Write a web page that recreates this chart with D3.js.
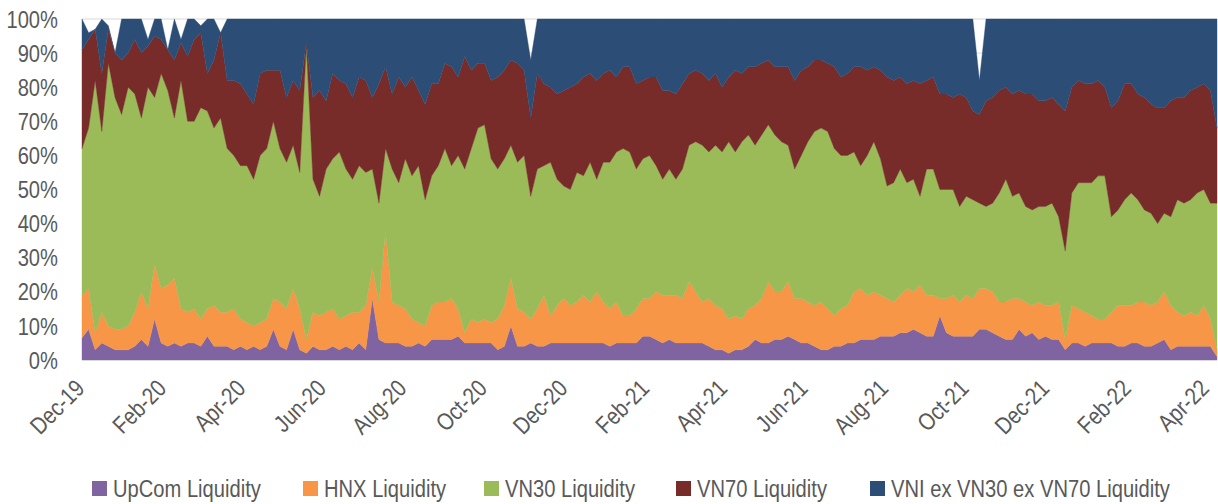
<!DOCTYPE html>
<html>
<head>
<meta charset="utf-8">
<title>Liquidity share</title>
<script src="https://d3js.org/d3.v7.min.js"></script>
<style>
    body { margin: 0; background: #fff; }
    text { font-family: 'Liberation Sans', Arial, sans-serif; fill: #595959; font-size: 24px; }
</style>
</head>
<body>
<script>
//DATA - cumulative share (%) at the top edge of each band, one reading every 5 days from 1 Dec 2019
var upcomLevel = [6.5,9,3,5,4,3,3,3,4,6,4,12,5,4,5,4,5,5,4,7,4,4,4,3,4,3,4,3,4,
    9,4,3,9,3,2,4,3,3,4,3,4,3,5,3,18,6,5,5,5,4,4,5,4,6,6,6,6,7,
    5,5,5,5,5,3,4,10,4,4,5,4,4,5,5,5,5,5,5,5,5,5,4,5,5,5,5,7,7,
    6,5,6,5,5,5,5,5,4,3,3,2,3,3,4,6,5,5,6,6,7,6,5,5,4,3,3,4,4,
    5,5,6,6,6,7,7,7,8,8,9,8,7,7,13,8,7,7,7,7,9,9,8,7,6,6,9,7,8,
    6,7,6,6,3,5,5,4,5,5,5,5,4,4,5,5,4,4,5,6,3,4,4,4,4,4,4,1];
var hnxLevel = [19,21,8,14,10,9,9,10,14,20,15,28,21,22,24,15,14,15,12,15,16,14,14,15,12,11,10,11,12,
    18,17,15,21,15,6,14,13,14,15,12,13,14,14,16,27,17,38,17,16,15,12,11,10,16,17,17,18,15,
    8,12,11,12,11,12,16,24,15,14,12,15,19,13,16,18,16,17,19,17,20,17,15,17,13,13,15,18,18,
    20,19,19,19,18,23,20,17,18,16,15,12,13,12,15,16,18,23,20,20,23,18,18,17,16,17,15,13,15,
    16,20,21,19,20,19,18,17,19,21,20,22,19,19,18,18,19,17,19,18,21,21,20,17,17,18,18,17,16,
    17,16,16,17,6,16,15,14,13,12,12,14,16,16,16,17,17,16,17,20,16,14,13,14,13,16,12,3];
var vn30Level = [62,68,82,67,87,77,72,80,78,71,80,77,84,79,71,82,70,70,74,73,68,71,62,60,57,57,53,60,62,
    70,62,58,63,55,92,53,48,56,59,61,56,53,57,55,56,46,62,56,52,59,54,57,47,54,57,62,57,60,
    56,62,68,69,59,56,59,63,58,60,48,56,57,58,53,51,50,55,54,58,53,58,58,61,62,61,56,59,60,
    57,53,56,53,56,63,64,63,61,63,61,64,61,64,66,63,66,69,66,64,63,56,60,64,67,68,67,62,60,
    60,61,57,60,64,59,51,52,56,52,53,48,56,56,50,50,50,45,48,47,46,45,46,49,53,48,49,45,44,
    45,45,46,42,32,49,52,52,52,54,54,42,44,47,49,47,44,43,40,43,42,47,46,47,49,50,46,46];
var vn70Level = [91,94,97,84,97,90,88,90,94,90,92,95,94,91,88,93,89,94,96,84,88,96,82,82,81,78,75,84,85,
    85,85,77,82,79,93,77,79,76,84,82,81,77,83,82,77,81,86,78,83,80,83,79,75,81,81,87,86,83,
    89,85,87,87,82,83,85,88,87,85,71,84,81,80,78,79,80,81,83,84,82,84,85,83,86,86,81,82,83,
    83,79,79,78,81,84,85,84,82,84,80,83,85,84,86,86,87,88,86,86,86,82,85,86,88,88,87,86,83,
    84,86,86,85,86,85,83,82,83,81,82,81,82,83,78,78,77,78,77,73,72,76,77,79,80,78,79,78,78,
    76,76,77,75,73,80,82,81,81,82,80,74,76,81,81,78,77,75,74,74,76,77,77,79,80,81,79,68];
// days where the total stays below 100% (white notches at the top): [reading index, total %]
var gapDays = [[1,96],[2,97],[4,98],[5,90],[10,94],[13,91],[15,94],[18,98],[21,96],[68,88],[136,82]];

var keys = ['upcom', 'hnx', 'vn30', 'vn70', 'vni'];
var names = ['UpCom Liquidity', 'HNX Liquidity', 'VN30 Liquidity', 'VN70 Liquidity', 'VNI ex VN30 ex VN70 Liquidity'];
var colors = ['#8064A2', '#F79646', '#9BBB59', '#772C2A', '#2C4D75'];
var yTicks = [0,10,20,30,40,50,60,70,80,90,100];

//BUILD ROWS
var start = new Date(2019, 11, 1);
var total = upcomLevel.map(() => 100);
gapDays.forEach(g => total[g[0]] = g[1]);

var rows = upcomLevel.map((d,i) => ({
    date: d3.timeDay.offset(start, i*5),
    upcom: upcomLevel[i],
    hnx: hnxLevel[i] - upcomLevel[i],
    vn30: vn30Level[i] - hnxLevel[i],
    vn70: vn70Level[i] - vn30Level[i],
    vni: total[i] - vn70Level[i]
}));

//WINDOW
var W = 1218, H = 504;
var pl = 82, pr = 1217, pt = 19, pb = 360;
var narrow = ' scale(0.84,1)'; // narrow face look

var svg = d3.select('body').append('svg')
    .attr('width', W)
    .attr('height', H)

var x = d3.scaleTime()
    .domain([start, rows[rows.length-1].date])
    .range([pl, pr]);

var y = d3.scaleLinear()
    .domain([0, 100])
    .range([pb, pt]);

//GRID
svg.append('g').selectAll('line')
    .data(yTicks).enter()
    .append('line')
    .attr('x1', pl).attr('x2', pr)
    .attr('y1', d => y(d)).attr('y2', d => y(d))
    .attr('stroke', '#D9D9D9')
    .attr('stroke-width', 1)

//AREAS
var series = d3.stack().keys(keys)(rows);

var area = d3.area()
    .x(d => x(d.data.date))
    .y0(d => y(d[0]))
    .y1(d => y(d[1]));

svg.append('g').selectAll('path')
    .data(series).enter()
    .append('path')
    .attr('d', area)
    .attr('fill', (d,i) => colors[i])
    .attr('stroke', (d,i) => colors[i])
    .attr('stroke-width', 0.4)

svg.append('line')
    .attr('x1', pl).attr('x2', pr)
    .attr('y1', pb + 0.5).attr('y2', pb + 0.5)
    .attr('stroke', '#D9D9D9')

//Y LABELS
svg.append('g').selectAll('text')
    .data(yTicks).enter()
    .append('text')
    .attr('transform', d => 'translate(58,' + y(d) + ')' + narrow)
    .attr('dy', '0.36em')
    .attr('text-anchor', 'end')
    .text(d => d + '%')

//X LABELS
var xTicks = d3.timeMonth.range(new Date(2019, 11, 1), new Date(2022, 4, 1), 2);
var fmt = d3.timeFormat('%b-%y');

svg.append('g').selectAll('text')
    .data(xTicks).enter()
    .append('text')
    .attr('transform', d => 'translate(' + (x(d) - 8) + ',378) rotate(-45)' + narrow)
    .attr('text-anchor', 'end')
    .attr('dy', '0.7em')
    .text(d => fmt(d))

//LEGEND
var legX = [92, 303, 484, 676, 870];
var leg = svg.append('g').selectAll('g')
    .data(names).enter()
    .append('g')
    .attr('transform', (d,i) => 'translate(' + legX[i] + ',481)')

leg.append('rect')
    .attr('width', 15)
    .attr('height', 15)
    .attr('fill', (d,i) => colors[i])

leg.append('text')
    .attr('transform', 'translate(21,16)' + narrow)
    .text(d => d)
</script>
</body>
</html>
